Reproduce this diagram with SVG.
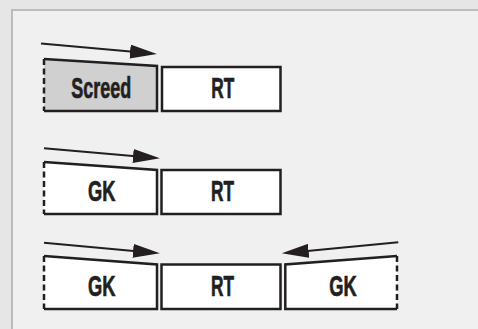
<svg xmlns="http://www.w3.org/2000/svg" width="478" height="329" viewBox="0 0 478 329">
  <style>
    .box { stroke: #231f20; stroke-width: 2.5; stroke-linejoin: miter; }
    .white { fill: #ffffff; }
    .grey { fill: #d0d0d0; }
    .dash { fill: none; stroke: #231f20; stroke-width: 2.5; stroke-dasharray: 6 3.5; }
    .arrow { fill: none; stroke: #231f20; stroke-width: 2; marker-end: url(#head); }
    .lbl { font-family: "Liberation Sans", Arial, sans-serif; font-weight: bold; font-size: 29.5px; fill: #231f20; stroke: #231f20; stroke-width: 0.7; text-anchor: middle; }
  </style>
  <defs>
    <marker id="head" viewBox="0 0 27 14" refX="17" refY="7" markerUnits="userSpaceOnUse" markerWidth="27" markerHeight="14" orient="auto">
      <path d="M0,0 L27,7 L0,14 z" fill="#231f20"/>
    </marker>
  </defs>
  <rect x="0" y="0" width="478" height="329" fill="#e6e6e6"/>
  <rect x="12" y="10" width="470" height="325" fill="#f0f0f0"/>
  <line x1="11" y1="10" x2="478" y2="10" stroke="#bcbcbc" stroke-width="2"/>
  <line x1="12" y1="9" x2="12" y2="329" stroke="#bcbcbc" stroke-width="2"/>

  <g id="row1-screed">
    <path class="grey" d="M44,59 L157,66 V111 H44 Z"/>
    <path class="box" fill="none" d="M44,111 H157 V66 L44,59"/>
    <path class="dash" d="M44,59 V111"/>
    <text class="lbl" x="101.3" y="98" textLength="60" lengthAdjust="spacingAndGlyphs">Screed</text>
  </g>
  <g id="row1-rt">
    <rect class="box white" x="162" y="67" width="118.5" height="44"/>
    <text class="lbl" x="222.7" y="98" textLength="23" lengthAdjust="spacingAndGlyphs">RT</text>
  </g>

  <g id="row2-gk">
    <path class="white" d="M44,162 L157,170 V214 H44 Z"/>
    <path class="box" fill="none" d="M44,214 H157 V170 L44,162"/>
    <path class="dash" d="M44,162 V214"/>
    <text class="lbl" x="101.7" y="200.5" textLength="27.5" lengthAdjust="spacingAndGlyphs">GK</text>
  </g>
  <g id="row2-rt">
    <rect class="box white" x="161.5" y="170" width="119" height="44"/>
    <text class="lbl" x="222.5" y="200.5" textLength="23" lengthAdjust="spacingAndGlyphs">RT</text>
  </g>

  <g id="row3-gk-left">
    <path class="white" d="M44,256 L157,264.5 V309 H44 Z"/>
    <path class="box" fill="none" d="M44,309 H157 V264.5 L44,256"/>
    <path class="dash" d="M44,256 V309"/>
    <text class="lbl" x="101.7" y="295.5" textLength="27.5" lengthAdjust="spacingAndGlyphs">GK</text>
  </g>
  <g id="row3-rt">
    <rect class="box white" x="161.5" y="264.5" width="119" height="44.5"/>
    <text class="lbl" x="222.5" y="295.5" textLength="23" lengthAdjust="spacingAndGlyphs">RT</text>
  </g>
  <g id="row3-gk-right">
    <path class="white" d="M285.3,264.5 L397,256 V309 H285.3 Z"/>
    <path class="box" fill="none" d="M397,309 H285.3 V264.5 L397,256"/>
    <path class="dash" d="M397,256 V309"/>
    <text class="lbl" x="343" y="295.5" textLength="27.5" lengthAdjust="spacingAndGlyphs">GK</text>
  </g>

  <g id="connectors">
    <path class="arrow" d="M41,43.4 L147,53.1"/>
    <path class="arrow" d="M44,148.3 L150,157.4"/>
    <path class="arrow" d="M44,242.7 L150,252.4"/>
    <path class="arrow" d="M398.3,242.3 L291.7,252.4"/>
  </g>
</svg>
